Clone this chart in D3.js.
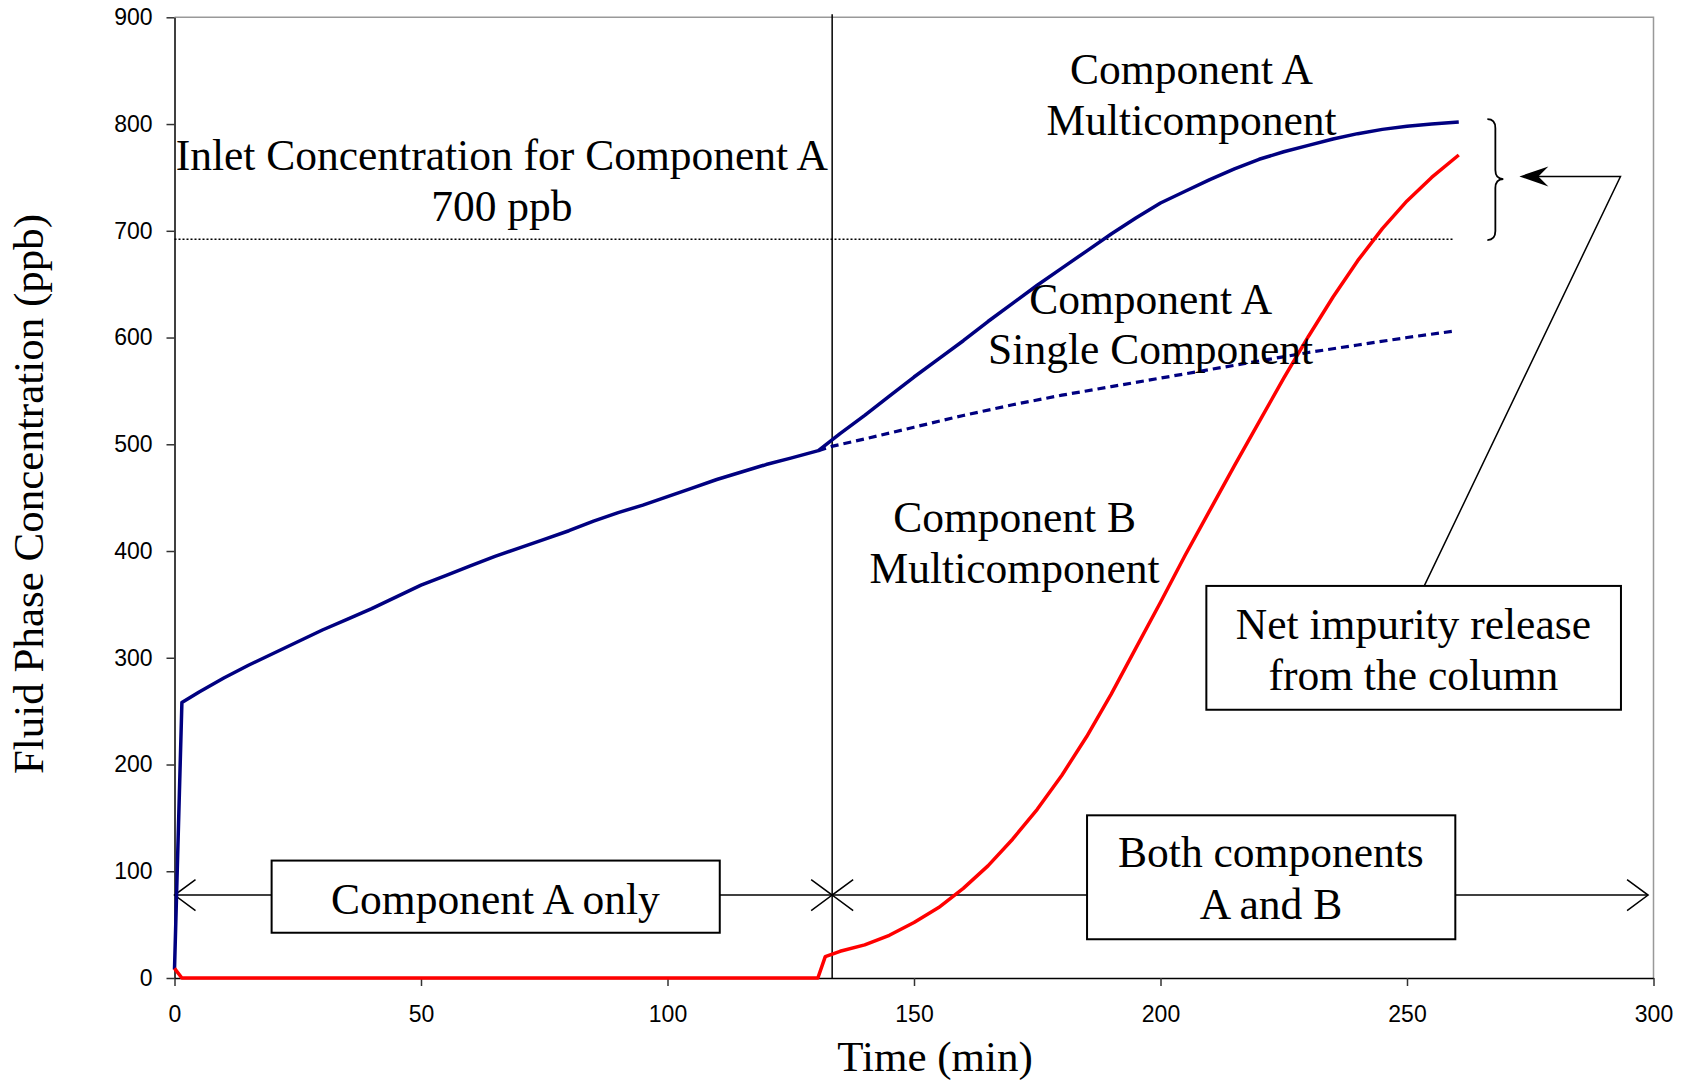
<!DOCTYPE html>
<html>
<head>
<meta charset="utf-8">
<script src="https://cdn.jsdelivr.net/npm/d3@7"></script>
<style>
  body { margin: 0; background: #fff; }
  svg { display: block; }
</style>
</head>
<body>
<script>
// chart values
const xTicks = [0, 50, 100, 150, 200, 250, 300];
const yTicks = [0, 100, 200, 300, 400, 500, 600, 700, 800, 900];

const multiATime = [0, 1.5, 5, 10, 15, 20, 25, 30, 35, 40, 45, 50, 55, 60, 65, 70, 75, 80, 85, 90, 95, 100, 105, 110, 115, 120, 125, 130.6, 135, 140, 145, 150, 155, 160, 165, 170, 175, 180, 185, 190, 195, 200, 205, 210, 215, 220, 225, 230, 235, 240, 245, 250, 255, 260.5];
const multiAValue = [8, 258, 268, 281, 293, 304, 315, 326, 336, 346, 357, 368, 377, 386, 395, 403, 411, 419, 428, 436, 443, 451, 459, 467, 474, 481, 487, 494, 510, 527, 545, 563, 580, 597, 615, 632, 649, 665, 681, 697, 712, 726, 737, 748, 758, 767, 774, 780, 786, 791, 795, 798, 800, 802];

const singleATime = [130.6, 133.3, 140, 150, 160, 170, 180, 190, 200, 210, 220, 230, 240, 250, 259.5];
const singleAValue = [494, 498, 505, 516, 527, 537, 546, 554, 562, 570, 578, 586, 593, 600, 606];

const multiBTime = [0, 1.5, 130.5, 132, 135, 140, 145, 150, 155, 160, 165, 170, 175, 180, 185, 190, 195, 200, 205, 210, 215, 220, 225, 230, 235, 240, 245, 250, 255, 260.5];
const multiBValue = [9, 0, 0, 20, 25, 31, 40, 52, 66, 84, 105, 130, 158, 190, 226, 266, 309, 352, 396, 438, 480, 521, 562, 601, 638, 672, 702, 728, 750, 771];

const inletLevel = 692;   // dotted line (labelled 700 ppb)
const switchTime = 133.4; // B starts to break through

const w = 1689;
const h = 1080;
const serif = "'Liberation Serif', 'Times New Roman', serif";
const sans = "'Liberation Sans', Arial, sans-serif";

const svg = d3.select("body").append("svg").attr("width", w).attr("height", h);

const x = d3.scaleLinear().domain([0, 300]).range([174.5, 1653.5]);
const y = d3.scaleLinear().domain([0, 900]).range([978, 17.3]);

// top / right frame
svg.append("path")
  .attr("d", `M${x(0)},${y(900)}H${x(300)}V${y(0)}`)
  .attr("fill", "none").attr("stroke", "#999").attr("stroke-width", 1.5);

// axes
const gx = svg.append("g").attr("transform", `translate(0,${y(0)})`)
  .call(d3.axisBottom(x).tickValues(xTicks).tickSize(8).tickSizeOuter(0).tickPadding(20));
const gy = svg.append("g").attr("transform", `translate(${x(0)},0)`)
  .call(d3.axisLeft(y).tickValues(yTicks).tickSize(8).tickSizeOuter(0).tickPadding(14));
[gx, gy].forEach(g => {
  g.selectAll("text").style("font-family", sans).style("font-size", "23px").attr("fill", "#000");
  g.selectAll("line").attr("stroke", "#333").attr("stroke-width", 1.5);
  g.select(".domain").attr("stroke", "#000").attr("stroke-width", 1.5);
});

// axis titles
svg.append("text").attr("x", 935).attr("y", 1071).attr("text-anchor", "middle")
  .style("font-family", serif).style("font-size", "43px").text("Time (min)");
svg.append("text").attr("transform", "translate(43,494) rotate(-90)").attr("text-anchor", "middle")
  .style("font-family", serif).style("font-size", "43px").text("Fluid Phase Concentration (ppb)");

// inlet level and switch line
svg.append("line")
  .attr("x1", x(0)).attr("x2", x(259.5)).attr("y1", y(inletLevel)).attr("y2", y(inletLevel))
  .attr("stroke", "#000").attr("stroke-width", 1.5).attr("stroke-dasharray", "2,2");
svg.append("line")
  .attr("x1", x(switchTime)).attr("x2", x(switchTime)).attr("y1", y(0)).attr("y2", y(900) - 3)
  .attr("stroke", "#000").attr("stroke-width", 1.5);

// region arrows
const arrowY = y(77.7);
svg.append("line").attr("x1", x(0)).attr("x2", x(298.9)).attr("y1", arrowY).attr("y2", arrowY)
  .attr("stroke", "#000").attr("stroke-width", 1.5);
function openHead(px, dir) {
  svg.append("path")
    .attr("d", `M${px - dir * 21},${arrowY - 15.5}L${px},${arrowY}L${px - dir * 21},${arrowY + 15.5}`)
    .attr("fill", "none").attr("stroke", "#000").attr("stroke-width", 1.5);
}
openHead(x(0), -1);
openHead(x(switchTime), 1);
openHead(x(switchTime), -1);
openHead(x(298.9), 1);

// series
const line = d3.line().x(d => x(d[0])).y(d => y(d[1]));
svg.append("path").datum(d3.zip(singleATime, singleAValue)).attr("d", line)
  .attr("fill", "none").attr("stroke", "#000080").attr("stroke-width", 3.2).attr("stroke-dasharray", "8,5");
svg.append("path").datum(d3.zip(multiATime, multiAValue)).attr("d", line)
  .attr("fill", "none").attr("stroke", "#000080").attr("stroke-width", 3.5).attr("stroke-linejoin", "round");
svg.append("path").datum(d3.zip(multiBTime, multiBValue)).attr("d", line)
  .attr("fill", "none").attr("stroke", "#ff0000").attr("stroke-width", 3.5).attr("stroke-linejoin", "round");

// boxes
function box(t0, t1, v0, v1) {
  svg.append("rect").attr("x", x(t0)).attr("y", y(v1)).attr("width", x(t1) - x(t0)).attr("height", y(v0) - y(v1))
    .attr("fill", "#fff").attr("stroke", "#000").attr("stroke-width", 2);
}
box(19.7, 110.6, 42.4, 110);
box(185.1, 259.8, 36.3, 152.4);
box(209.3, 293.4, 251.3, 367.3);

// brace and pointer for the net release
const bx = x(266.3), bTop = y(804.6), bBot = y(691.3), bMid = y(748.4);
svg.append("path")
  .attr("d", `M${bx},${bTop}Q${bx + 8},${bTop} ${bx + 8},${bTop + 9}V${bMid - 9}Q${bx + 8},${bMid} ${bx + 16},${bMid}` +
             `Q${bx + 8},${bMid} ${bx + 8},${bMid + 9}V${bBot - 9}Q${bx + 8},${bBot} ${bx},${bBot}`)
  .attr("fill", "none").attr("stroke", "#000").attr("stroke-width", 1.8);
const pY = y(750.9), pX = x(293.3), tipX = x(272.8);
svg.append("path")
  .attr("d", `M${x(253.5)},${y(367.3)}L${pX},${pY}H${tipX + 18}`)
  .attr("fill", "none").attr("stroke", "#000").attr("stroke-width", 1.5);
svg.append("path")
  .attr("d", `M${tipX},${pY}L${tipX + 29},${pY - 10}L${tipX + 19},${pY}L${tipX + 29},${pY + 10}Z`)
  .attr("fill", "#000");

// annotation text
function label(t, v, str) {
  svg.append("text").attr("x", x(t)).attr("y", y(v)).attr("dy", "0.33em").attr("text-anchor", "middle")
    .style("font-family", serif).style("font-size", "43.5px").attr("fill", "#000").text(str);
}
label(66.4, 770, "Inlet Concentration for Component A");
label(66.4, 722.4, "700 ppb");
label(206.3, 850.6, "Component A");
label(206.3, 803.2, "Multicomponent");
label(198, 635.7, "Component A");
label(198, 588.2, "Single Component");
label(170.4, 430.8, "Component B");
label(170.4, 383.4, "Multicomponent");
label(251.3, 331, "Net impurity release");
label(251.3, 283.5, "from the column");
label(65.1, 73.7, "Component A only");
label(222.4, 117, "Both components");
label(222.4, 68.6, "A and B");
</script>
</body>
</html>
